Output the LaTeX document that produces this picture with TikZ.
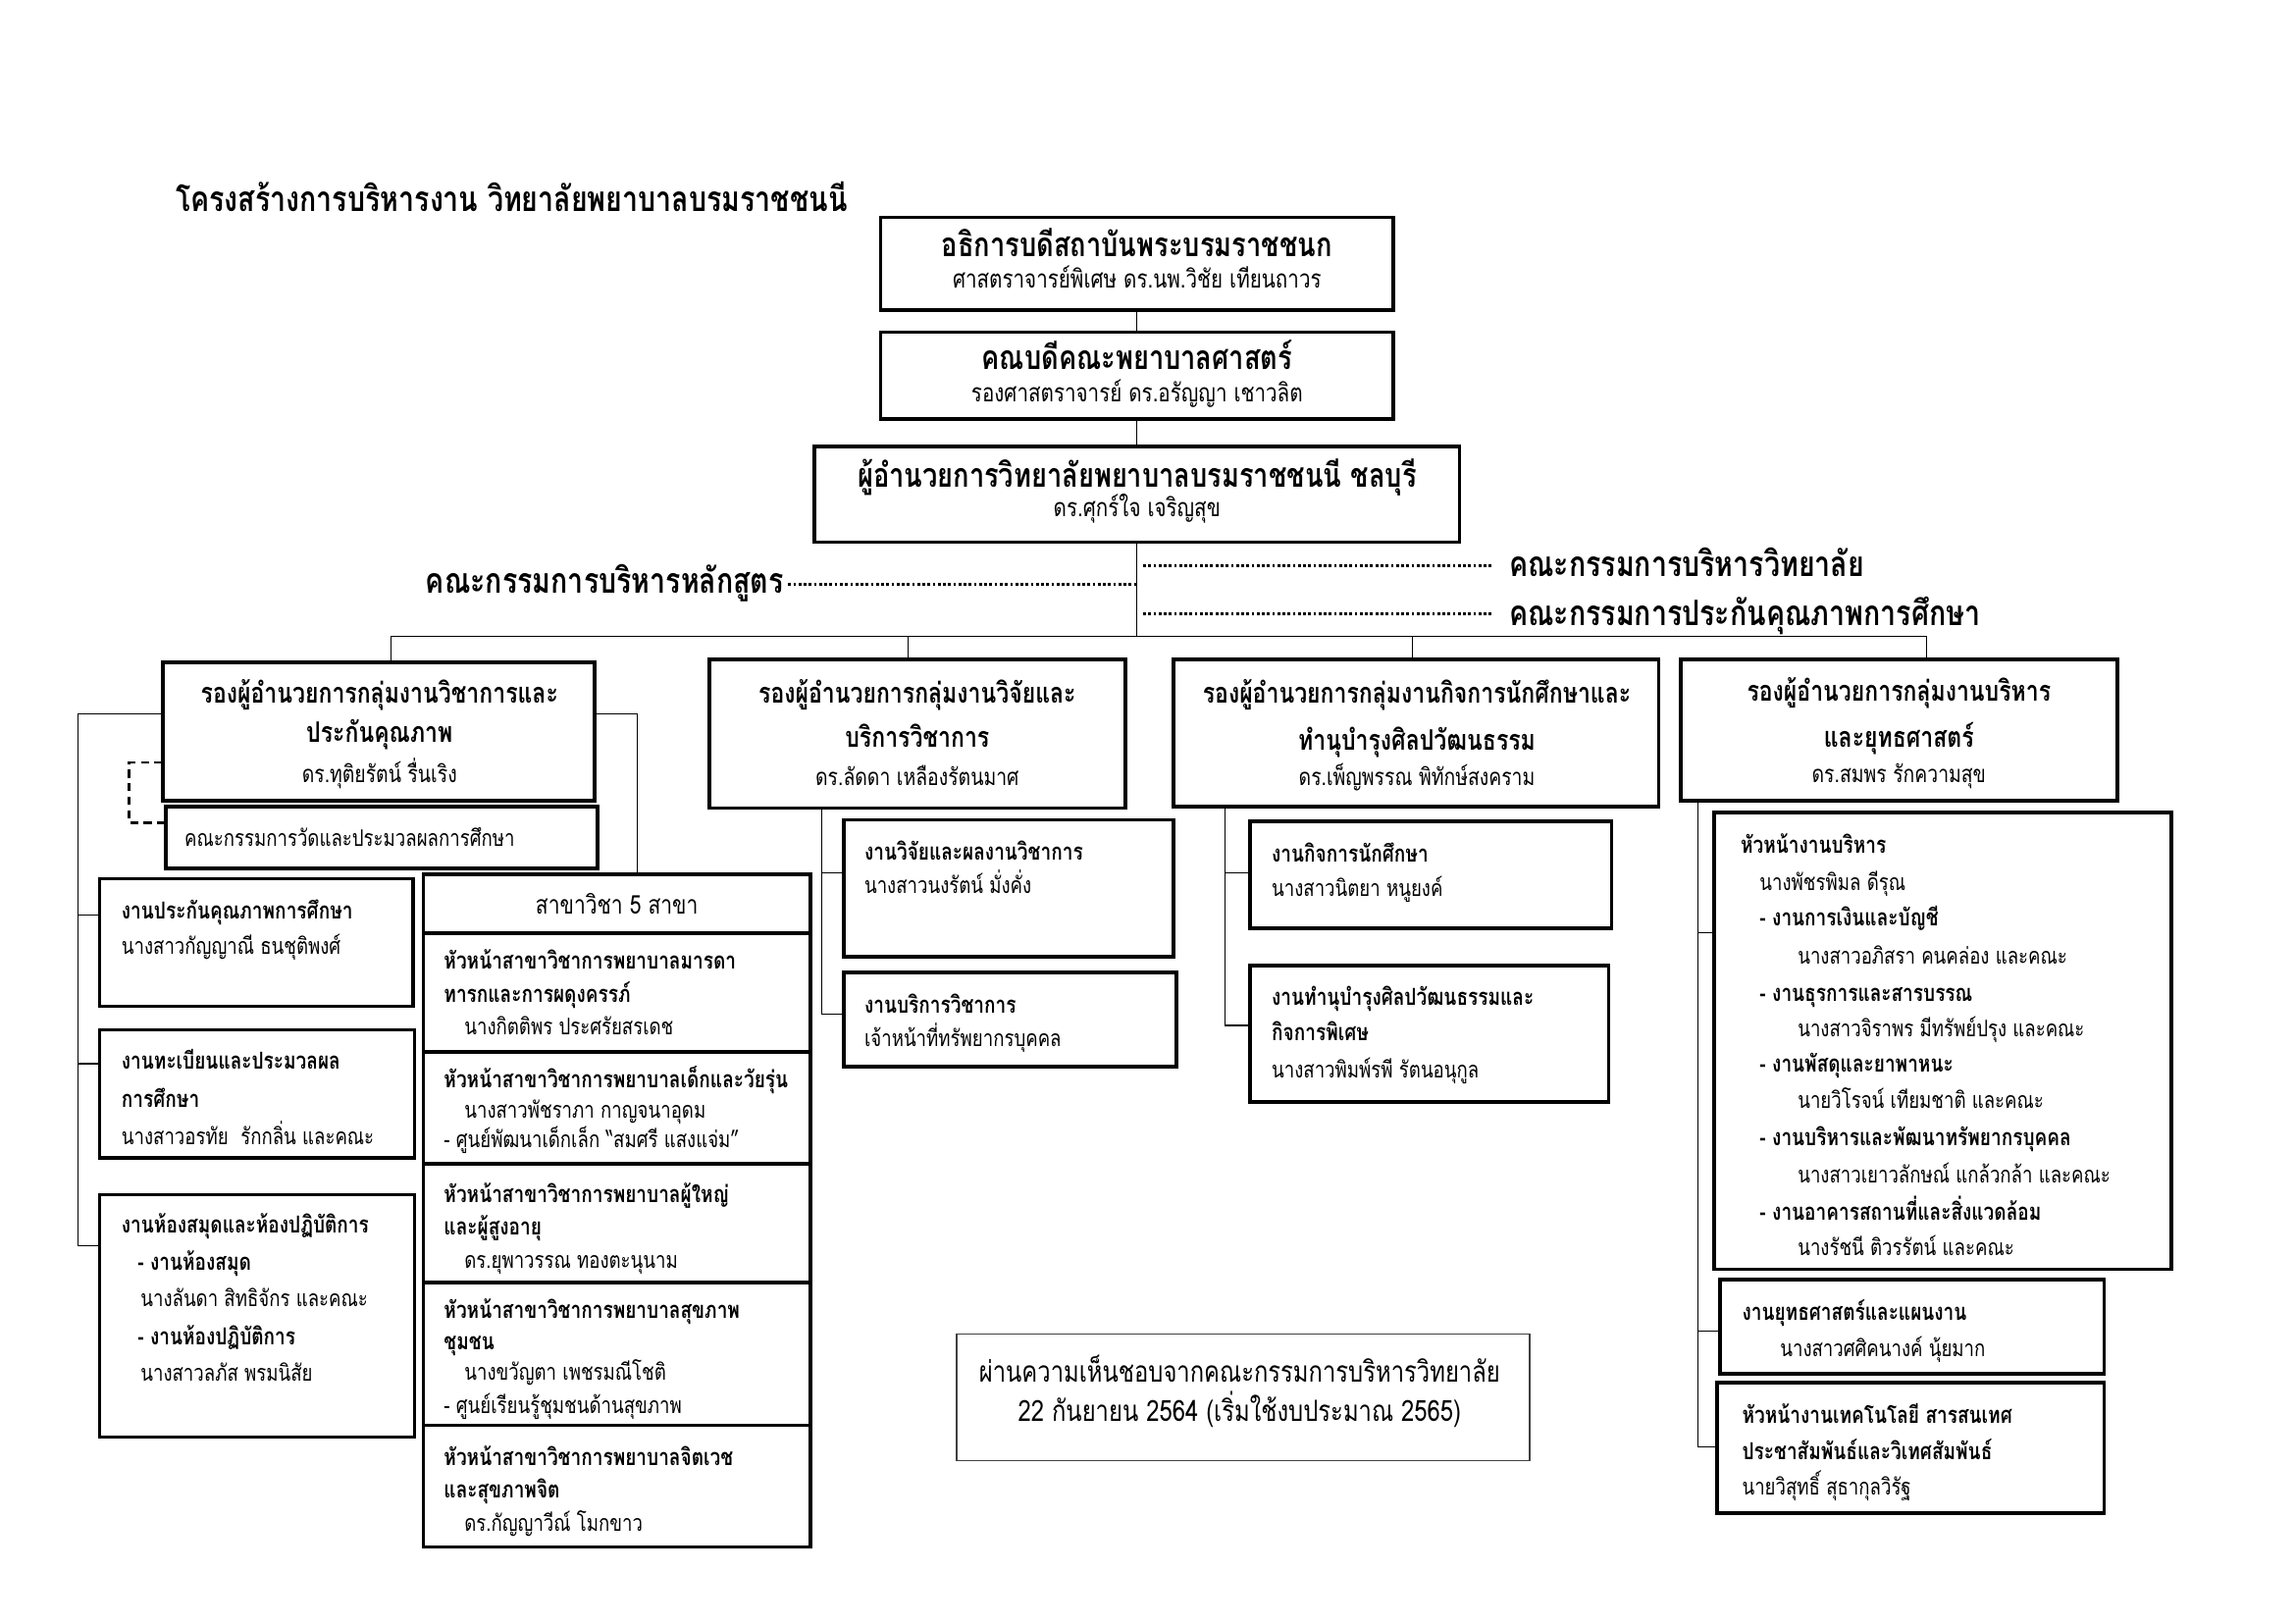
\documentclass[tikz,border=0pt]{standalone}
\usepackage{fontspec}
\setmainfont[Script=Thai,FakeStretch=0.8]{Loma}
\usetikzlibrary{calc}
\def\ux{0.18965}
\def\uy{0.19015}
\newcommand{\bx}[6]{\node[#6, minimum width={(#4-#2)*\ux mm}, minimum height={(#5-#3)*\uy mm}] (#1) at ({(#2+#4)/2},{(#3+#5)/2}) {};}
\newcommand{\tl}[5]{\node[#4, anchor=west] (#1) at (#2,#3) {#5};}
\newcommand{\tc}[5]{\node[#4, anchor=center] (#1) at (#2,#3) {#5};}
\begin{document}
\begin{tikzpicture}[x=\ux mm,y=-\uy mm,
  conn/.style={line width=0.45pt},
  dots/.style={line width=1.1pt, dash pattern=on 1pt off 0.9pt},
  dsh/.style={line width=0.9pt, dash pattern=on 3pt off 2pt},
  bxs/.style={draw, line width=1.3pt, inner sep=0pt, outer sep=0pt},
  thinbx/.style={draw=black!75, line width=0.5pt, inner sep=0pt, outer sep=0pt},
  tx/.style={inner sep=0pt, outer sep=0pt, text depth=0pt},
  fb/.style={tx, font=\bfseries\fontsize{#1}{#1}\selectfont, text height={0.56*#1pt}},
  fr/.style={tx, font=\fontsize{#1}{#1}\selectfont, text height={0.56*#1pt}},
  tT/.style={fb=12.9}, h1/.style={fb=12.3}, n1/.style={fr=9.3}, com/.style={fb=12.9},
  h2/.style={fb=10.4}, n2/.style={fr=8.75}, h3/.style={fb=8.6}, n3/.style={fr=8.4}, nt/.style={fr=10.75}]
\useasboundingbox (0,0) rectangle (297.05mm,-210.06mm);

% ---------- boxes ----------
\bx{A}{601}{148}{951}{211}{bxs}
\bx{B}{601}{226}{951}{285}{bxs}
\bx{C}{556}{304}{996}{369}{bxs}
\bx{D}{111}{451}{406}{545}{bxs}
\bx{E}{484}{449}{768}{550}{bxs}
\bx{F}{801}{449}{1132}{549}{bxs}
\bx{G}{1147}{449}{1445}{545}{bxs}
\bx{H}{113}{549}{408}{591}{bxs}
\bx{I}{68}{598}{282}{685}{bxs}
\bx{J}{68}{701}{283}{788}{bxs}
\bx{K}{68}{813}{283}{978}{bxs}
\bx{S0}{289}{595}{553}{635}{bxs}
\bx{S1}{289}{635}{553}{716}{bxs}
\bx{S2}{289}{716}{553}{792}{bxs}
\bx{S3}{289}{792}{553}{873}{bxs}
\bx{S4}{289}{873}{553}{970}{bxs}
\bx{S5}{289}{970}{553}{1053}{bxs}
\bx{L}{576}{558}{801}{651}{bxs}
\bx{M}{576}{662}{803}{726}{bxs}
\bx{N}{853}{559}{1100}{632}{bxs}
\bx{O}{853}{657}{1098}{750}{bxs}
\bx{P}{1170}{553}{1482}{864}{bxs}
\bx{Q}{1174}{871}{1436}{935}{bxs}
\bx{R}{1172}{941}{1436}{1030}{bxs}
\bx{NT}{653}{908}{1044}{994}{thinbx}

% ---------- texts ----------
\tl{title}{120}{137}{tT}{โครงสร้างการบริหารงาน วิทยาลัยพยาบาลบรมราชชนนี}
\tc{A1}{776}{168}{h1}{อธิการบดีสถาบันพระบรมราชชนก}
\tc{A2}{776}{191}{n1}{ศาสตราจารย์พิเศษ ดร.นพ.วิชัย เทียนถาวร}
\tc{B1}{776}{245}{h1}{คณบดีคณะพยาบาลศาสตร์}
\tc{B2}{776}{269}{n1}{รองศาสตราจารย์ ดร.อรัญญา เชาวลิต}
\tc{C1}{776}{325}{h1}{ผู้อำนวยการวิทยาลัยพยาบาลบรมราชชนนี ชลบุรี}
\tc{C2}{776}{347}{n1}{ดร.ศุกร์ใจ เจริญสุข}

\node[com, anchor=east] (cm1) at (535,397) {คณะกรรมการบริหารหลักสูตร};
\node[com, anchor=west] (cm2) at (1030,386) {คณะกรรมการบริหารวิทยาลัย};
\node[com, anchor=west] (cm3) at (1030,419) {คณะกรรมการประกันคุณภาพการศึกษา};

\tc{D1}{259}{473}{h2}{รองผู้อำนวยการกลุ่มงานวิชาการและ}
\tc{D2}{259}{500}{h2}{ประกันคุณภาพ}
\tc{D3}{259}{528}{n2}{ดร.ทุติยรัตน์ รื่นเริง}
\tc{E1}{626}{473}{h2}{รองผู้อำนวยการกลุ่มงานวิจัยและ}
\tc{E2}{626}{503}{h2}{บริการวิชาการ}
\tc{E3}{626}{530}{n2}{ดร.ลัดดา เหลืองรัตนมาศ}
\tc{F1}{967}{473}{h2}{รองผู้อำนวยการกลุ่มงานกิจการนักศึกษาและ}
\tc{F2}{967}{505}{h2}{ทำนุบำรุงศิลปวัฒนธรรม}
\tc{F3}{967}{530}{n2}{ดร.เพ็ญพรรณ พิทักษ์สงคราม}
\tc{G1}{1296}{472}{h2}{รองผู้อำนวยการกลุ่มงานบริหาร}
\tc{G2}{1296}{503}{h2}{และยุทธศาสตร์}
\tc{G3}{1296}{528}{n2}{ดร.สมพร รักความสุข}

\tl{H1}{126}{572}{n3}{คณะกรรมการวัดและประมวลผลการศึกษา}
\tl{I1}{83}{621}{h3}{งานประกันคุณภาพการศึกษา}
\tl{I2}{83}{645}{n3}{นางสาวกัญญาณี ธนชุติพงศ์}
\tl{J1}{83}{723}{h3}{งานทะเบียนและประมวลผล}
\tl{J2}{83}{749}{h3}{การศึกษา}
\tl{J3}{83}{775}{n3}{นางสาวอรทัย\ \ รักกลิ่น และคณะ}
\tl{K1}{83}{835}{h3}{งานห้องสมุดและห้องปฏิบัติการ}
\tl{K2}{94}{860}{h3}{- งานห้องสมุด}
\tl{K3}{96}{885}{n3}{นางลันดา สิทธิจักร และคณะ}
\tl{K4}{94}{911}{h3}{- งานห้องปฏิบัติการ}
\tl{K5}{96}{936}{n3}{นางสาวลภัส พรมนิสัย}

\tc{S01}{421}{617}{fr=9.5}{สาขาวิชา 5 สาขา}
\tl{S11}{303}{655}{h3}{หัวหน้าสาขาวิชาการพยาบาลมารดา}
\tl{S12}{303}{678}{h3}{ทารกและการผดุงครรภ์}
\tl{S13}{317}{700}{n3}{นางกิตติพร ประศรัยสรเดช}
\tl{S21}{303}{736}{h3}{หัวหน้าสาขาวิชาการพยาบาลเด็กและวัยรุ่น}
\tl{S22}{317}{757}{n3}{นางสาวพัชราภา กาญจนาอุดม}
\tl{S23}{303}{777}{n3}{- ศูนย์พัฒนาเด็กเล็ก “สมศรี แสงแจ่ม”}
\tl{S31}{303}{814}{h3}{หัวหน้าสาขาวิชาการพยาบาลผู้ใหญ่}
\tl{S32}{303}{836}{h3}{และผู้สูงอายุ}
\tl{S33}{317}{859}{n3}{ดร.ยุพาวรรณ ทองตะนุนาม}
\tl{S41}{303}{893}{h3}{หัวหน้าสาขาวิชาการพยาบาลสุขภาพ}
\tl{S42}{303}{914}{h3}{ชุมชน}
\tl{S43}{317}{935}{n3}{นางขวัญตา เพชรมณีโชติ}
\tl{S44}{303}{958}{n3}{- ศูนย์เรียนรู้ชุมชนด้านสุขภาพ}
\tl{S51}{303}{993}{h3}{หัวหน้าสาขาวิชาการพยาบาลจิตเวช}
\tl{S52}{303}{1015}{h3}{และสุขภาพจิต}
\tl{S53}{317}{1038}{n3}{ดร.กัญญาวีณ์ โมกขาว}

\tl{L1}{590}{581}{h3}{งานวิจัยและผลงานวิชาการ}
\tl{L2}{590}{604}{n3}{นางสาวนงรัตน์ มั่งคั่ง}
\tl{M1}{590}{685}{h3}{งานบริการวิชาการ}
\tl{M2}{590}{708}{n3}{เจ้าหน้าที่ทรัพยากรบุคคล}
\tl{N1}{868}{582}{h3}{งานกิจการนักศึกษา}
\tl{N2}{868}{606}{n3}{นางสาวนิตยา หนูยงค์}
\tl{O1}{868}{680}{h3}{งานทำนุบำรุงศิลปวัฒนธรรมและ}
\tl{O2}{868}{704}{h3}{กิจการพิเศษ}
\tl{O3}{868}{729}{n3}{นางสาวพิมพ์รพี รัตนอนุกูล}

\tl{P1}{1188}{576}{h3}{หัวหน้างานบริหาร}
\tl{P2}{1201}{602}{n3}{นางพัชรพิมล ดีรุณ}
\tl{P3}{1201}{626}{h3}{- งานการเงินและบัญชี}
\tl{P4}{1227}{652}{n3}{นางสาวอภิสรา คนคล่อง และคณะ}
\tl{P5}{1201}{677}{h3}{- งานธุรการและสารบรรณ}
\tl{P6}{1227}{701}{n3}{นางสาวจิราพร มีทรัพย์ปรุง และคณะ}
\tl{P7}{1201}{725}{h3}{- งานพัสดุและยาพาหนะ}
\tl{P8}{1227}{750}{n3}{นายวิโรจน์ เทียมชาติ และคณะ}
\tl{P9}{1201}{775}{h3}{- งานบริหารและพัฒนาทรัพยากรบุคคล}
\tl{P10}{1227}{801}{n3}{นางสาวเยาวลักษณ์ แกล้วกล้า และคณะ}
\tl{P11}{1201}{826}{h3}{- งานอาคารสถานที่และสิ่งแวดล้อม}
\tl{P12}{1227}{850}{n3}{นางรัชนี ติวรรัตน์ และคณะ}
\tl{Q1}{1189}{894}{h3}{งานยุทธศาสตร์และแผนงาน}
\tl{Q2}{1215}{919}{n3}{นางสาวศศิคนางค์ นุ้ยมาก}
\tl{R1}{1189}{964}{h3}{หัวหน้างานเทคโนโลยี สารสนเทศ}
\tl{R2}{1189}{989}{h3}{ประชาสัมพันธ์และวิเทศสัมพันธ์}
\tl{R3}{1189}{1013}{n3}{นายวิสุทธิ์ สุธากุลวิรัฐ}

\tc{NT1}{846}{935}{nt}{ผ่านความเห็นชอบจากคณะกรรมการบริหารวิทยาลัย}
\tc{NT2}{846}{962}{nt}{22 กันยายน 2564 (เริ่มใช้งบประมาณ 2565)}

% ---------- connectors ----------
\draw[conn] (A) -- (B);
\draw[conn] (B) -- (C);
\coordinate (bus) at (776,433);
\draw[conn] (C) -- (bus);
\coordinate (busL) at (267,433);
\coordinate (busE) at (620,433);
\coordinate (busF) at (964,433);
\coordinate (busR) at (1315,433);
\draw[conn] (busL |- D.north) -- (busL) -- (busR) -- (busR |- G.north);
\draw[conn] (busE) -- (busE |- E.north);
\draw[conn] (busF) -- (busF |- F.north);

\draw[dots] ($(cm1.east)+(3,1)$) -- ($(cm1.east -| bus)+(0,1)$);
\draw[dots] ($(cm2.west)+(-12,-1)$) -- ($(cm2.west -| bus)+(4,-1)$);
\draw[dots] ($(cm3.west)+(-12,-1)$) -- ($(cm3.west -| bus)+(4,-1)$);

% academic group
\coordinate (dl) at (111,486);
\coordinate (lv) at (53,486);
\coordinate (kI) at (68,623);
\coordinate (kJ) at (68,724);
\coordinate (kK) at (68,848);
\draw[conn] (dl) -- (lv) -- (kK -| lv) -- (kK);
\draw[conn] (kI -| lv) -- (kI);
\draw[conn] (kJ -| lv) -- (kJ);
\coordinate (dr) at (406,486);
\coordinate (s0t) at (435,595);
\draw[conn] (dr) -| (s0t);
\coordinate (db1) at (111,519);
\coordinate (db2) at (113,560);
\draw[dsh] (db1) -- ++(-23,0) |- (db2);

% research group
\coordinate (ev) at (561,550);
\coordinate (kL) at (576,594);
\coordinate (kM) at (576,690);
\draw[conn] (ev) |- (kM);
\draw[conn] (kL -| ev) -- (kL);

% student affairs group
\coordinate (fv) at (836,549);
\coordinate (kN) at (853,594);
\coordinate (kO) at (853,698);
\draw[conn] (fv) |- (kO);
\draw[conn] (kN -| fv) -- (kN);

% administration group
\coordinate (gv) at (1159,545);
\coordinate (kP) at (1170,635);
\coordinate (kQ) at (1174,906);
\coordinate (kR) at (1172,985);
\draw[conn] (gv) |- (kR);
\draw[conn] (kP -| gv) -- (kP);
\draw[conn] (kQ -| gv) -- (kQ);
\end{tikzpicture}
\end{document}
